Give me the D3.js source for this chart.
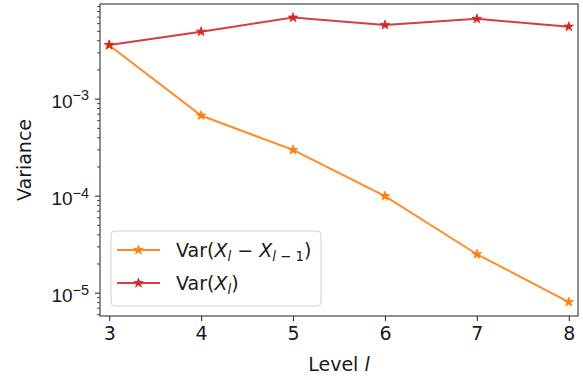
<!DOCTYPE html>
<html>
<head>
<meta charset="utf-8">
<script src="https://cdn.jsdelivr.net/npm/d3@7/dist/d3.min.js"></script>
<style>
  html, body { margin: 0; padding: 0; background: #fff; }
  svg { display: block; font-family: "DejaVu Sans", sans-serif; }
</style>
</head>
<body>
<svg id="chart" width="583" height="380"></svg>
<script>
// Levels and measured variances
const levels = [3, 4, 5, 6, 7, 8];
const varDiff = [3.55e-3, 6.7e-4, 2.96e-4, 9.9e-5, 2.49e-5, 8.0e-6];
const varLevel = [3.58e-3, 4.9e-3, 6.84e-3, 5.75e-3, 6.64e-3, 5.52e-3];
const xTickLabels = ["3", "4", "5", "6", "7", "8"];
const yTickExponents = [-5, -4, -3];

const W = 583, H = 380;
const margin = { left: 100, right: 5, top: 4, bottom: 64 };
const plotW = W - margin.left - margin.right;
const plotH = H - margin.top - margin.bottom;

const svg = d3.select("#chart");
const g = svg.append("g").attr("transform", `translate(${margin.left},${margin.top})`);

const x = d3.scaleLinear().domain([2.9, 8.1]).range([0, plotW]);
const y = d3.scaleLog().domain([5.75e-6, 9.45e-3]).range([plotH, 0]);

const fontSize = 19;
const axisColor = "#333";
const textColor = "#1a1a1a";

// x axis
const xAxis = g.append("g")
  .attr("transform", `translate(0,${plotH})`)
  .call(d3.axisBottom(x).tickValues(levels).tickFormat((d, i) => xTickLabels[i]).tickSize(5).tickPadding(6));
xAxis.select(".domain").remove();
xAxis.selectAll("line").attr("stroke", axisColor).attr("stroke-width", 1.1);
xAxis.selectAll("text").attr("font-size", fontSize).attr("fill", textColor)
  .attr("font-family", "DejaVu Sans, sans-serif");

// y axis: major ticks at decades, minor ticks at 2..9
const majors = yTickExponents.map(e => Math.pow(10, e));
const minors = y.ticks().filter(v => !majors.some(m => Math.abs(v - m) / m < 1e-9));
const yMinor = g.append("g").call(d3.axisLeft(y).tickValues(minors).tickSize(3).tickFormat(""));
yMinor.select(".domain").remove();
yMinor.selectAll("line").attr("stroke", axisColor).attr("stroke-width", 0.9);

const yMajor = g.append("g").call(d3.axisLeft(y).tickValues(majors).tickSize(5).tickFormat(""));
yMajor.select(".domain").remove();
yMajor.selectAll("line").attr("stroke", axisColor).attr("stroke-width", 1.1);

// decade labels as 10 with superscript exponent
yMajor.selectAll(".tick").each(function(d) {
  const e = Math.round(Math.log10(d));
  const t = d3.select(this).append("text")
    .attr("x", -11).attr("y", 0).attr("dy", "0.45em")
    .attr("text-anchor", "end")
    .attr("font-size", fontSize).attr("fill", textColor);
  t.append("tspan").text("10");
  t.append("tspan").attr("dy", "-0.5em").attr("font-size", fontSize * 0.76).text("\u2212" + Math.abs(e));
});

// frame
g.append("rect").attr("x", 0).attr("y", 0).attr("width", plotW).attr("height", plotH)
  .attr("fill", "none").attr("stroke", axisColor).attr("stroke-width", 1.1);

// series
const series = [
  { values: varDiff, color: "#ff7f0e" },
  { values: varLevel, color: "#d62728" }
];
const line = d3.line().x(d => x(d[0])).y(d => y(d[1]));
const star = d3.symbol().type(d3.symbolStar).size(28);

series.forEach(s => {
  const pts = levels.map((l, i) => [l, s.values[i]]);
  g.append("path").datum(pts)
    .attr("fill", "none").attr("stroke", s.color).attr("stroke-width", 2)
    .attr("stroke-opacity", 0.9).attr("d", line);
  g.selectAll(null).data(pts).enter().append("path")
    .attr("transform", d => `translate(${x(d[0])},${y(d[1])})`)
    .attr("d", star).attr("fill", s.color).attr("stroke", s.color).attr("stroke-width", 0.8);
});

// legend
const lg = svg.append("g").attr("transform", "translate(111,231)");
lg.append("rect").attr("width", 210).attr("height", 75).attr("rx", 4)
  .attr("fill", "#fff").attr("fill-opacity", 0.85).attr("stroke", "#d0d0d0").attr("stroke-width", 1);

const rows = [
  { color: "#ff7f0e", y: 19 },
  { color: "#d62728", y: 52 }
];
rows.forEach(r => {
  lg.append("line").attr("x1", 6).attr("x2", 49).attr("y1", r.y).attr("y2", r.y)
    .attr("stroke", r.color).attr("stroke-width", 2).attr("stroke-opacity", 0.9);
  lg.append("path").attr("transform", `translate(27.5,${r.y})`).attr("d", star)
    .attr("fill", r.color).attr("stroke", r.color).attr("stroke-width", 0.8);
});

function legendText(yPos) {
  return lg.append("text").attr("x", 65).attr("y", yPos).attr("dy", "0.36em")
    .attr("font-size", fontSize).attr("fill", textColor);
}
const t1 = legendText(rows[0].y);
t1.append("tspan").text("Var(");
t1.append("tspan").attr("font-style", "italic").text("X");
t1.append("tspan").attr("font-style", "italic").attr("font-size", fontSize * 0.7).attr("dy", "0.3em").text("l");
t1.append("tspan").attr("dy", "-0.21em").text(" \u2212 ");
t1.append("tspan").attr("font-style", "italic").text("X");
t1.append("tspan").attr("font-style", "italic").attr("font-size", fontSize * 0.7).attr("dy", "0.3em").text("l");
t1.append("tspan").attr("font-size", fontSize * 0.7).text(" \u2212 1");
t1.append("tspan").attr("dy", "-0.21em").text(")");

const t2 = legendText(rows[1].y);
t2.append("tspan").text("Var(");
t2.append("tspan").attr("font-style", "italic").text("X");
t2.append("tspan").attr("font-style", "italic").attr("font-size", fontSize * 0.7).attr("dy", "0.3em").text("l");
t2.append("tspan").attr("dy", "-0.21em").text(")");

// axis titles
const xl = svg.append("text").attr("x", margin.left + plotW / 2).attr("y", 364).attr("dy", "0.35em")
  .attr("text-anchor", "middle").attr("font-size", fontSize).attr("fill", textColor);
xl.append("tspan").text("Level ");
xl.append("tspan").attr("font-style", "italic").text("l");

svg.append("text")
  .attr("transform", `translate(24,${margin.top + plotH / 2}) rotate(-90)`)
  .attr("dy", "0.35em").attr("text-anchor", "middle")
  .attr("font-size", fontSize).attr("fill", textColor).text("Variance");
</script>
</body>
</html>
